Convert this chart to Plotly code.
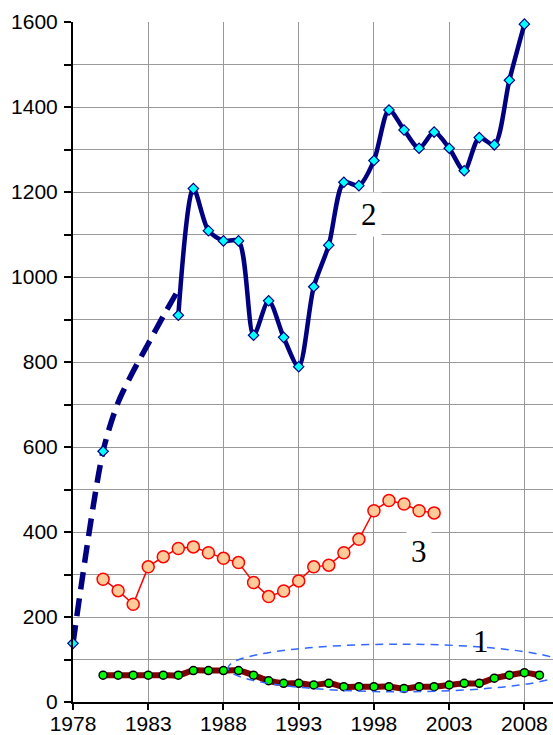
import plotly.graph_objects as go

# ---- data ----
years_s2_est = [1978, 1980, 1981, 1982, 1983, 1984, 1985]
values_s2_est = [138, 590, 705, 778, 843, 908, 970]
years_s2_est_markers = [1978, 1980]
values_s2_est_markers = [138, 590]

years_s2 = list(range(1985, 2009))
values_s2 = [910, 1208, 1109, 1085, 1085, 863, 944, 858, 789, 977, 1075, 1223,
             1215, 1274, 1393, 1346, 1303, 1341, 1303, 1250, 1328, 1311, 1463, 1595]

years_s3 = list(range(1980, 2003))
values_s3 = [289, 262, 230, 318, 342, 361, 365, 351, 338, 328, 281, 248, 261,
             285, 318, 322, 351, 383, 450, 474, 466, 450, 445]

years_s1 = list(range(1980, 2010))
values_s1 = [63, 63, 63, 63, 63, 63, 74, 74, 74, 74, 63, 50, 44, 44, 40, 44, 36,
             36, 36, 36, 32, 36, 36, 40, 44, 44, 56, 63, 69, 63]

x_ticks = [1978, 1983, 1988, 1993, 1998, 2003, 2008]
y_grid = list(range(0, 1700, 100))
y_labels = [str(v) if v % 200 == 0 else "" for v in y_grid]

labels = ["1", "2", "3"]
label_x = [2005.1, 1997.7, 2001.0]
label_y = [143, 1148, 353]

NAVY = "#000080"

fig = go.Figure()

# series 2 estimated (dashed) part
fig.add_trace(go.Scatter(
    x=years_s2_est, y=values_s2_est, mode="lines",
    line=dict(color=NAVY, width=5.5, dash="18px,9px", shape="spline", smoothing=0.8),
    hoverinfo="skip", showlegend=False))
fig.add_trace(go.Scatter(
    x=years_s2_est_markers, y=values_s2_est_markers, mode="markers",
    marker=dict(symbol="diamond", size=8, color="#00FFFF",
                line=dict(color=NAVY, width=1.2)),
    showlegend=False, cliponaxis=False))

# series 2 solid
fig.add_trace(go.Scatter(
    x=years_s2, y=values_s2, mode="lines+markers",
    line=dict(color=NAVY, width=4.5, shape="spline", smoothing=0.8),
    marker=dict(symbol="diamond", size=8, color="#00FFFF",
                line=dict(color=NAVY, width=1.2)),
    showlegend=False, cliponaxis=False))

# series 3
fig.add_trace(go.Scatter(
    x=years_s3, y=values_s3, mode="lines+markers",
    line=dict(color="#FF0000", width=1.5),
    marker=dict(symbol="circle", size=12, color="#FFCC99",
                line=dict(color="#FF0000", width=1.5)),
    showlegend=False))

# series 1
fig.add_trace(go.Scatter(
    x=years_s1, y=values_s1, mode="lines+markers",
    line=dict(color="#800000", width=6, shape="spline", smoothing=0.8),
    marker=dict(symbol="circle", size=8, color="#00FF00",
                line=dict(color="#000000", width=1.5)),
    showlegend=False))

# dashed ellipse around series 1
fig.add_shape(type="circle", xref="x", yref="y",
              x0=1988.3, x1=2011.1, y0=24, y1=136,
              line=dict(color="#3366FF", width=1.5, dash="8px,6px"),
              layer="above")

for i, t in enumerate(labels):
    fig.add_annotation(
        x=label_x[i], y=label_y[i], text=t, showarrow=False,
        font=dict(family="Liberation Serif, Times New Roman, serif", size=31, color="#000000"),
        bgcolor="rgba(0,0,0,0)" if t == "1" else "#FFFFFF",
        borderpad=4)

fig.update_layout(
    width=553, height=735,
    margin=dict(l=73, r=0, t=22, b=33, autoexpand=False),
    paper_bgcolor="#FFFFFF", plot_bgcolor="#FFFFFF",
    font=dict(family="Liberation Sans, Arial, sans-serif", size=21, color="#000000"),
    xaxis=dict(range=[1978, 2009.9], tickvals=x_ticks,
               ticktext=[str(v) for v in x_ticks],
               showgrid=True, gridcolor="#999999", gridwidth=1.3,
               showline=True, linecolor="#000000", linewidth=2,
               ticks="outside", ticklen=6, tickwidth=1.5, tickcolor="#000000",
               ticklabelstandoff=-4,
               zeroline=False, fixedrange=True, automargin=False),
    yaxis=dict(range=[0, 1600], tickvals=y_grid, ticktext=y_labels,
               showgrid=True, gridcolor="#999999", gridwidth=1.3,
               showline=True, linecolor="#000000", linewidth=2,
               ticks="outside", ticklen=7, tickwidth=1.5, tickcolor="#000000",
               ticklabelstandoff=2,
               zeroline=False, fixedrange=True, automargin=False),
)

fig.write_html("out.html", config={"displayModeBar": False},
               post_script="document.body.style.margin='0';document.body.style.overflow='hidden';")
